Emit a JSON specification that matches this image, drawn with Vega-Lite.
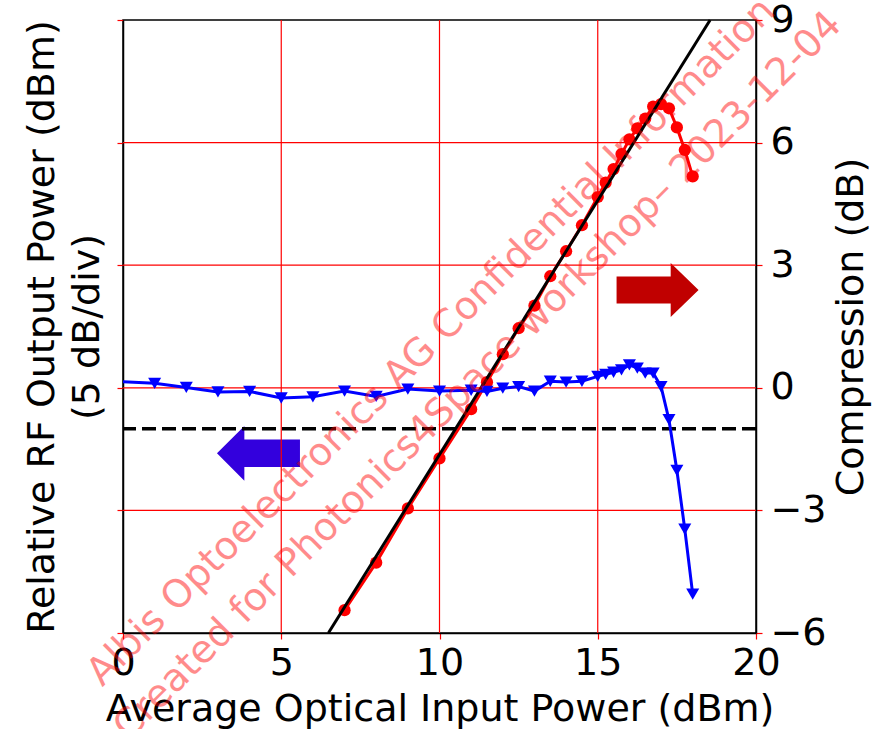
{
  "$schema": "https://vega.github.io/schema/vega-lite/v6.json",
  "width": 633,
  "height": 613,
  "autosize": {"type": "none"},
  "padding": {"left": 123, "top": 20, "right": 119, "bottom": 96},
  "background": "white",
  "config": {
    "font": "DejaVu Sans",
    "view": {"stroke": "black", "strokeWidth": 1.5},
    "axis": {
      "labelFont": "DejaVu Sans", "titleFont": "DejaVu Sans",
      "labelFontSize": 38, "titleFontSize": 38,
      "labelColor": "black", "titleColor": "black", "titleFontWeight": "normal",
      "domainColor": "black", "domainWidth": 1.5,
      "tickColor": "#ff0000", "tickSize": 6, "tickWidth": 1.2,
      "grid": false, "labelFlush": false, "labelOverlap": false
    }
  },
  "datasets": {
    "rf": [
      {"x": 7, "p": -9.07}, {"x": 8, "p": -7.13}, {"x": 9, "p": -4.92}, {"x": 10, "p": -2.88},
      {"x": 11, "p": -0.87}, {"x": 11.5, "p": 0.23}, {"x": 12, "p": 1.37}, {"x": 12.5, "p": 2.43},
      {"x": 13, "p": 3.35}, {"x": 13.5, "p": 4.55}, {"x": 14, "p": 5.57}, {"x": 14.5, "p": 6.63},
      {"x": 15, "p": 7.78}, {"x": 15.25, "p": 8.37}, {"x": 15.5, "p": 8.92}, {"x": 15.75, "p": 9.53},
      {"x": 16, "p": 10.13}, {"x": 16.25, "p": 10.58}, {"x": 16.5, "p": 10.98}, {"x": 16.75, "p": 11.47},
      {"x": 17, "p": 11.57}, {"x": 17.25, "p": 11.4}, {"x": 17.5, "p": 10.62}, {"x": 17.75, "p": 9.7},
      {"x": 18, "p": 8.62}
    ],
    "fit": [{"x": 6.49, "p": -10}, {"x": 18.55, "p": 15}],
    "comp": [
      {"x": 0, "c": 0.15}, {"x": 1, "c": 0.11}, {"x": 2, "c": 0.01}, {"x": 3, "c": -0.1},
      {"x": 4, "c": -0.09}, {"x": 5, "c": -0.25}, {"x": 6, "c": -0.22}, {"x": 7, "c": -0.08},
      {"x": 8, "c": -0.21}, {"x": 9, "c": -0.03}, {"x": 10, "c": -0.08}, {"x": 11, "c": -0.06},
      {"x": 11.5, "c": -0.09}, {"x": 12, "c": -0.01}, {"x": 12.5, "c": 0.03}, {"x": 13, "c": -0.08},
      {"x": 13.5, "c": 0.16}, {"x": 14, "c": 0.14}, {"x": 14.5, "c": 0.16}, {"x": 15, "c": 0.28},
      {"x": 15.25, "c": 0.33}, {"x": 15.5, "c": 0.38}, {"x": 15.75, "c": 0.44}, {"x": 16, "c": 0.56},
      {"x": 16.25, "c": 0.48}, {"x": 16.5, "c": 0.36}, {"x": 16.75, "c": 0.36}, {"x": 17, "c": 0.03},
      {"x": 17.25, "c": -0.78}, {"x": 17.5, "c": -2.02}, {"x": 17.75, "c": -3.46}, {"x": 18, "c": -5.05}
    ],
    "gridx": [{"x": 5}, {"x": 10}, {"x": 15}],
    "gridy": [{"p": -5}, {"p": 0}, {"p": 5}, {"p": 10}],
    "ref": [{"c": -1}],
    "arrowR": [{"x": 16.89, "p": 3.99}],
    "arrowB": [{"x": 4.28, "p": -2.67}],
    "wm": [
      {"x": 10.0, "c": 0.92, "t": "Albis Optoelectronics AG Confidential Information"},
      {"x": 11.47, "c": 0.09, "t": "Created  for Photonics4Space workshop– 2023-12-04"}
    ]
  },
  "layer": [
    {
      "layer": [
        {
          "data": {"name": "arrowR"},
          "mark": {"type": "point", "shape": "M -1 -0.33 L 0.32 -0.33 L 0.32 -0.66 L 1 0 L 0.32 0.66 L 0.32 0.33 L -1 0.33 Z", "size": 6724, "filled": true, "fill": "#c00000", "strokeWidth": 0, "opacity": 1},
          "encoding": {
            "x": {"field": "x", "type": "quantitative", "scale": {"domain": [0, 20]}, "title": "Average Optical Input Power (dBm)", "axis": {"values": [0, 5, 10, 15, 20], "labelPadding": 5, "titlePadding": 8}},
            "y": {"field": "p", "type": "quantitative", "scale": {"domain": [-10, 15]}, "title": ["Relative RF Output Power (dBm)", "(5 dB/div)"], "axis": {"orient": "left", "values": [-10, -5, 0, 5, 10, 15], "labels": false, "titlePadding": 10, "titleLineHeight": 45}}
          }
        },
        {
          "data": {"name": "arrowB"},
          "mark": {"type": "point", "shape": "M 1 -0.33 L -0.34 -0.33 L -0.34 -0.66 L -1 0 L -0.34 0.66 L -0.34 0.33 L 1 0.33 Z", "size": 6889, "filled": true, "fill": "#3300dd", "strokeWidth": 0, "opacity": 1},
          "encoding": {
            "x": {"field": "x", "type": "quantitative", "scale": {"domain": [0, 20]}, "title": "Average Optical Input Power (dBm)", "axis": {"values": [0, 5, 10, 15, 20], "labelPadding": 5, "titlePadding": 8}},
            "y": {"field": "p", "type": "quantitative", "scale": {"domain": [-10, 15]}, "title": ["Relative RF Output Power (dBm)", "(5 dB/div)"], "axis": {"orient": "left", "values": [-10, -5, 0, 5, 10, 15], "labels": false, "titlePadding": 10, "titleLineHeight": 45}}
          }
        },
        {
          "data": {"name": "gridx"},
          "mark": {"type": "rule", "color": "#ff0000", "strokeWidth": 1.2},
          "encoding": {
            "x": {"field": "x", "type": "quantitative", "scale": {"domain": [0, 20]}, "title": "Average Optical Input Power (dBm)", "axis": {"values": [0, 5, 10, 15, 20], "labelPadding": 5, "titlePadding": 8}}
          }
        },
        {
          "data": {"name": "gridy"},
          "mark": {"type": "rule", "color": "#ff0000", "strokeWidth": 1.2},
          "encoding": {
            "y": {"field": "p", "type": "quantitative", "scale": {"domain": [-10, 15]}, "title": ["Relative RF Output Power (dBm)", "(5 dB/div)"], "axis": {"orient": "left", "values": [-10, -5, 0, 5, 10, 15], "labels": false, "titlePadding": 10, "titleLineHeight": 45}}
          }
        },
        {
          "data": {"name": "rf"},
          "mark": {"type": "line", "color": "#ff0000", "strokeWidth": 3},
          "encoding": {
            "x": {"field": "x", "type": "quantitative", "scale": {"domain": [0, 20]}, "title": "Average Optical Input Power (dBm)", "axis": {"values": [0, 5, 10, 15, 20], "labelPadding": 5, "titlePadding": 8}},
            "y": {"field": "p", "type": "quantitative", "scale": {"domain": [-10, 15]}, "title": ["Relative RF Output Power (dBm)", "(5 dB/div)"], "axis": {"orient": "left", "values": [-10, -5, 0, 5, 10, 15], "labels": false, "titlePadding": 10, "titleLineHeight": 45}}
          }
        },
        {
          "data": {"name": "rf"},
          "mark": {"type": "point", "shape": "circle", "filled": true, "color": "#ff0000", "size": 150, "opacity": 1},
          "encoding": {
            "x": {"field": "x", "type": "quantitative", "scale": {"domain": [0, 20]}, "title": "Average Optical Input Power (dBm)", "axis": {"values": [0, 5, 10, 15, 20], "labelPadding": 5, "titlePadding": 8}},
            "y": {"field": "p", "type": "quantitative", "scale": {"domain": [-10, 15]}, "title": ["Relative RF Output Power (dBm)", "(5 dB/div)"], "axis": {"orient": "left", "values": [-10, -5, 0, 5, 10, 15], "labels": false, "titlePadding": 10, "titleLineHeight": 45}}
          }
        },
        {
          "data": {"name": "fit"},
          "mark": {"type": "line", "color": "black", "strokeWidth": 3},
          "encoding": {
            "x": {"field": "x", "type": "quantitative", "scale": {"domain": [0, 20]}, "title": "Average Optical Input Power (dBm)", "axis": {"values": [0, 5, 10, 15, 20], "labelPadding": 5, "titlePadding": 8}},
            "y": {"field": "p", "type": "quantitative", "scale": {"domain": [-10, 15]}, "title": ["Relative RF Output Power (dBm)", "(5 dB/div)"], "axis": {"orient": "left", "values": [-10, -5, 0, 5, 10, 15], "labels": false, "titlePadding": 10, "titleLineHeight": 45}}
          }
        }
      ]
    },
    {
      "layer": [
        {
          "data": {"name": "ref"},
          "mark": {"type": "rule", "color": "black", "strokeWidth": 3.5, "strokeDash": [14, 6]},
          "encoding": {
            "y": {"field": "c", "type": "quantitative", "scale": {"domain": [-6, 9]}, "title": "Compression (dB)", "axis": {"orient": "right", "values": [-6, -3, 0, 3, 6, 9], "labelPadding": 8, "titlePadding": 6, "titleAngle": 270, "titleBaseline": "top"}}
          }
        },
        {
          "data": {"name": "comp"},
          "mark": {"type": "line", "color": "#0000ff", "strokeWidth": 3},
          "encoding": {
            "x": {"field": "x", "type": "quantitative", "scale": {"domain": [0, 20]}, "title": "Average Optical Input Power (dBm)", "axis": {"values": [0, 5, 10, 15, 20], "labelPadding": 5, "titlePadding": 8}},
            "y": {"field": "c", "type": "quantitative", "scale": {"domain": [-6, 9]}, "title": "Compression (dB)", "axis": {"orient": "right", "values": [-6, -3, 0, 3, 6, 9], "labelPadding": 8, "titlePadding": 6, "titleAngle": 270, "titleBaseline": "top"}}
          }
        },
        {
          "data": {"name": "comp"},
          "transform": [{"filter": "datum.x > 0"}],
          "mark": {"type": "point", "shape": "triangle-down", "filled": true, "color": "#0000ff", "size": 170, "opacity": 1},
          "encoding": {
            "x": {"field": "x", "type": "quantitative", "scale": {"domain": [0, 20]}, "title": "Average Optical Input Power (dBm)", "axis": {"values": [0, 5, 10, 15, 20], "labelPadding": 5, "titlePadding": 8}},
            "y": {"field": "c", "type": "quantitative", "scale": {"domain": [-6, 9]}, "title": "Compression (dB)", "axis": {"orient": "right", "values": [-6, -3, 0, 3, 6, 9], "labelPadding": 8, "titlePadding": 6, "titleAngle": 270, "titleBaseline": "top"}}
          }
        },
        {
          "data": {"name": "wm"},
          "mark": {"type": "text", "angle": -45, "align": "center", "baseline": "alphabetic", "fontSize": 38.5, "font": "DejaVu Sans", "fill": "#ff0000", "opacity": 0.45},
          "encoding": {
            "x": {"field": "x", "type": "quantitative", "scale": {"domain": [0, 20]}, "title": "Average Optical Input Power (dBm)", "axis": {"values": [0, 5, 10, 15, 20], "labelPadding": 5, "titlePadding": 8}},
            "y": {"field": "c", "type": "quantitative", "scale": {"domain": [-6, 9]}, "title": "Compression (dB)", "axis": {"orient": "right", "values": [-6, -3, 0, 3, 6, 9], "labelPadding": 8, "titlePadding": 6, "titleAngle": 270, "titleBaseline": "top"}},
            "text": {"field": "t", "type": "nominal"}
          }
        }
      ]
    }
  ],
  "resolve": {"scale": {"y": "independent"}}
}
